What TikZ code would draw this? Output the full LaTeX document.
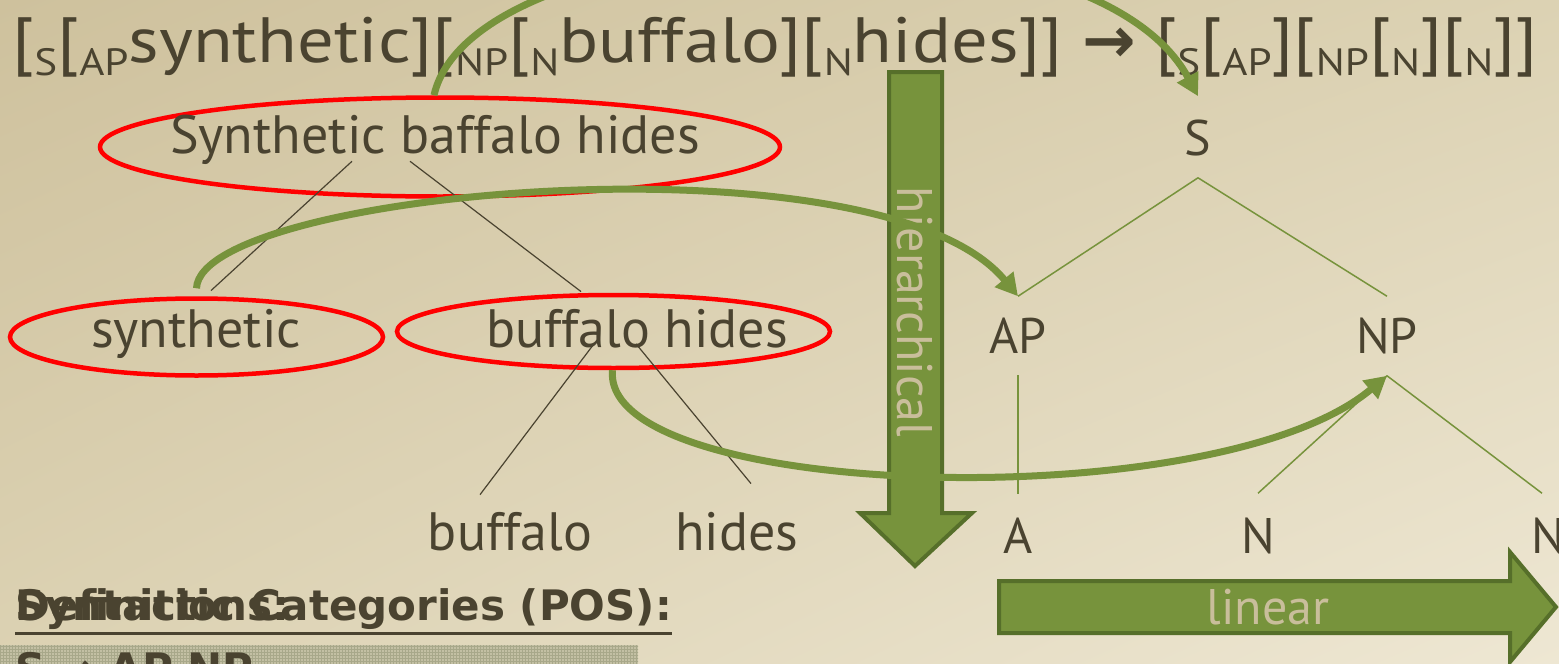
\documentclass[tikz,border=0pt]{standalone}
\usepackage{fontspec}
\setmainfont{PT Sans}
\newfontfamily\wideface[FakeStretch=1.135]{PT Sans}
\newfontfamily\arrowfont{DejaVu Sans}
\newfontfamily\headface{DejaVu Sans}
\usepackage{tikz}
\usetikzlibrary{shapes.geometric, arrows.meta, patterns, shadings}
\definecolor{ink}{HTML}{4A4330}
\definecolor{leaf}{HTML}{77933C}
\definecolor{leafdark}{HTML}{566F2A}
\definecolor{paper}{HTML}{C9BE9B}
\definecolor{bgdark}{HTML}{CEC19D}
\definecolor{bgmid}{HTML}{DCD2B3}
\definecolor{bglight}{HTML}{EEE7D3}
\definecolor{hatch}{HTML}{C3C0A4}
\definecolor{hatchline}{HTML}{A8A88A}
\newcommand\sublab[1]{\raisebox{-13pt}{\fontsize{38}{38}\selectfont #1}}
\tikzset{
  big_font/.style = {font=\wideface\fontsize{64}{64}\selectfont},
  word_font/.style = {font=\fontsize{54}{54}\selectfont},
  cat_font/.style = {font=\fontsize{50}{50}\selectfont},
  label_font/.style = {font=\fontsize{50}{50}\selectfont},
  head_font/.style = {font=\headface\fontsize{42}{42}\selectfont\bfseries}
}
\tikzset{
  word/.style = {word_font, text=ink, inner sep=0, anchor=base},
  cat/.style = {cat_font, text=ink, inner sep=0, anchor=base},
  red_ring/.style = {draw=red, line width=4.5, ellipse, inner sep=0},
  black_branch/.style = {draw=ink, line width=1.2},
  green_branch/.style = {draw=leaf, line width=1.5},
  link/.style = {draw=leaf, line width=7, -{Triangle[length=22pt, width=23pt]}},
  big_arrow/.style = {fill=leaf, draw=leafdark, line width=4, line join=miter},
  arrow_text/.style = {label_font, text=paper, inner sep=0},
  heading/.style = {head_font, text=ink, inner sep=0, anchor=base west}
}
\begin{document}
\begin{tikzpicture}[x=1pt, y=-1pt]

    % Background
    \shade[upper left=bgdark, upper right=bgmid, lower left=bgmid, lower right=bglight]
        (0,0) rectangle (1559,664);
    \useasboundingbox (0,0) rectangle (1559,664);
    \clip (0,0) rectangle (1559,664);

    % Bracketed strings
    \node[big_font, text=ink, inner sep=0, anchor=base west] (formula) at (12,62) {%
        [\sublab{S}[\sublab{AP}synthetic][\sublab{NP}[\sublab{N}buffalo][\sublab{N}hides]]
        {\arrowfont\bfseries →} [\sublab{S}[\sublab{AP}][\sublab{NP}[\sublab{N}][\sublab{N}]]};

    % Word tree
    \node[red_ring, minimum width=680, minimum height=99] (whole_ring) at (440,147) {};
    \node[red_ring, minimum width=373, minimum height=77] (syn_ring) at (196.5,337) {};
    \node[red_ring, minimum width=433, minimum height=73] (bh_ring) at (613.5,331.5) {};

    \node[word] (whole) at (435,153) {Synthetic baffalo hides};
    \node[word] (syn) at (196,347) {synthetic};
    \node[word] (bh) at (637,347) {buffalo hides};
    \node[word] (buf) at (510,550) {buffalo};
    \node[word] (hid) at (737,550) {hides};

    \draw[black_branch] ([xshift=-83, yshift=3]whole.south) -- ([xshift=15, yshift=18]syn.north);
    \draw[black_branch] ([xshift=-25, yshift=3]whole.south) -- ([xshift=-56, yshift=17]bh.north);
    \draw[black_branch] ([xshift=-43, yshift=4]bh.south) -- ([xshift=-30, yshift=17]buf.north);
    \draw[black_branch] ([xshift=-1, yshift=4]bh.south) -- ([xshift=14, yshift=28]hid.north);

    % Category tree
    \node[cat] (s) at (1198,155) {S};
    \node[cat] (ap) at (1018,353) {AP};
    \node[cat] (np) at (1387,353) {NP};
    \node[cat] (a) at (1018,553) {A};
    \node[cat] (n1) at (1258,553) {N};
    \node[cat] (n2) at (1548,553) {N};

    \draw[green_branch] ([yshift=-22]s.south) -- ([yshift=21]ap.north);
    \draw[green_branch] ([yshift=-22]s.south) -- ([yshift=21]np.north);
    \draw[green_branch] ([yshift=-22]ap.south) -- ([yshift=23]a.north);
    \draw[green_branch] ([yshift=-22]np.south) -- ([yshift=24]n1.north);
    \draw[green_branch] ([yshift=-22]np.south) -- ([xshift=-6, yshift=24]n2.north);

    % Big arrows
    \draw[big_arrow] (889,72) -- (942,72) -- (942,513) -- (972,513) -- (915,566)
        -- (860,513) -- (889,513) -- cycle;
    \node[arrow_text, rotate=-90] (hier) at (915,312) {hierarchical};
    \draw[big_arrow] (999,581) -- (1510,581) -- (1510,552) -- (1556,607) -- (1510,662)
        -- (1510,633) -- (999,633) -- cycle;
    \node[arrow_text] (lin) at (1268,607) {linear};

    % Mapping links
    \draw[link] ([xshift=-6]whole_ring.north) .. controls +(40,-175) and +(-110,-205) .. ([yshift=23]s.north);
    \draw[link] ([yshift=8]syn_ring.north) .. controls +(4,-98) and +(-138,-167) .. ([yshift=21]ap.north);
    \draw[link] ([xshift=-1]bh_ring.south) .. controls +(-12,130) and +(-170,143) .. ([yshift=-22]np.south);

    % Bottom text
    \node[heading] (defs) at (15,620) {Definitions:};
    \node[heading] (cats) at (15,620) {Syntactic Categories (POS):};
    \draw[ink, line width=3] ([yshift=-13]cats.base west) -- ([yshift=-13]cats.base east);

    \fill[hatch] (0,645) rectangle (638,672);
    \fill[pattern=grid, pattern color=hatchline] (0,645) rectangle (638,672);
    \node[head_font, text=ink, inner sep=0, anchor=north west] (rule) at (15,652)
        {S → AP NP ...};

\end{tikzpicture}
\end{document}
